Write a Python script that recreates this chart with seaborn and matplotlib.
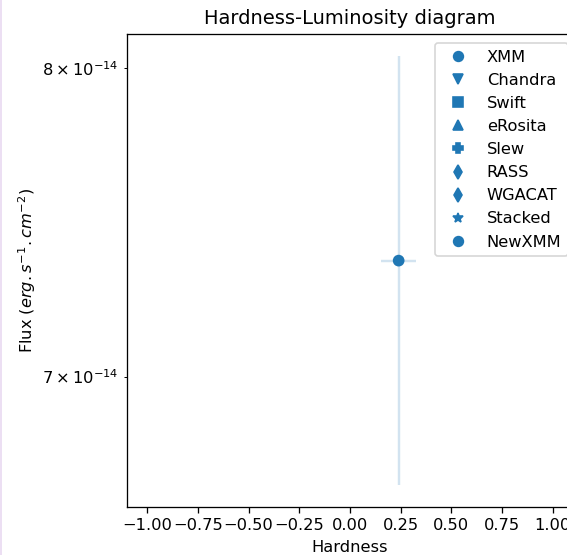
import matplotlib
matplotlib.use("Agg")
import matplotlib.pyplot as plt
from matplotlib.lines import Line2D
from matplotlib.patches import Rectangle
import seaborn as sns
import pandas as pd

plt.rcParams["font.family"] = ["DejaVu Sans"]

# Catalogues and their markers
instruments = ["XMM", "Chandra", "Swift", "eRosita", "Slew", "RASS", "WGACAT", "Stacked", "NewXMM"]
markers = ["o", "v", "s", "^", "P", "d", "d", "*", "o"]

# Measured source
hardness = [0.24]
hardness_err = [0.085]
flux = [7.36e-14]
flux_err = [0.68e-14]

df = pd.DataFrame({"Hardness": hardness, "Flux": flux, "Instrument": ["NewXMM"]})

DPI = 117
fig = plt.figure(figsize=(567 / DPI, 555 / DPI), dpi=DPI)
ax = fig.add_axes([127 / 567, 1 - 507 / 555, 446 / 567, 473 / 555])

ax.errorbar(hardness, flux, xerr=hardness_err, yerr=flux_err, fmt="none",
            ecolor="C0", alpha=0.2, lw=1.5, zorder=1)
sns.scatterplot(data=df, x="Hardness", y="Flux", ax=ax, color="C0", s=52,
                marker="o", edgecolor="none", legend=False, zorder=2)

ax.set_yscale("log")
ax.set_xlim(-1.1, 1.1)
ax.set_ylim(6.616e-14, 8.118e-14)
xt = [-1.0, -0.75, -0.5, -0.25, 0.0, 0.25, 0.5, 0.75, 1.0]
ax.set_xticks(xt)
ax.set_xticklabels([f"{v:.2f}".replace("-", "\u2212") for v in xt])
ax.set_xlabel("Hardness")
ax.set_ylabel(r"Flux ($erg.s^{-1}.cm^{-2}$)", labelpad=2.5)
ax.set_title("Hardness-Luminosity diagram")

handles = [Line2D([], [], linestyle="none", marker=m, color="C0")
           for m in markers]
ax.legend(handles, instruments, loc="upper right", bbox_to_anchor=(1.007, 0.998),
          frameon=True)

fig.patches.append(Rectangle((0, 0), 2 / 567, 1, transform=fig.transFigure,
                             facecolor="#ecdff3", edgecolor="none"))

fig.savefig("out.png", dpi=DPI)
